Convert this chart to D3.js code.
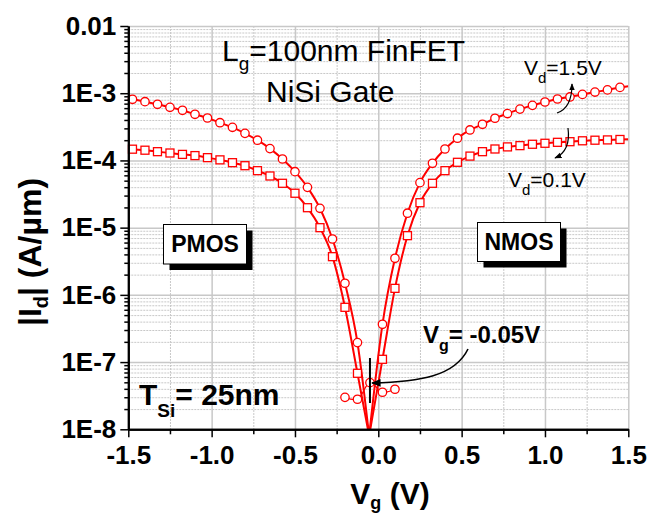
<!DOCTYPE html>
<html>
<head>
<meta charset="utf-8">
<script src="https://cdn.jsdelivr.net/npm/d3@7"></script>
<style>
  body { margin: 0; background: #fff; }
  svg { font-family: "Liberation Sans", Arial, sans-serif; }
  .grid line { stroke: #c8c8c8; }
  .grid path { display: none; }
  .axis path, .axis line { stroke: #000; }
</style>
</head>
<body>
<svg id="chart" width="666" height="513"></svg>
<script>
// gate voltages where markers sit
const vgMarks = [-1.475, -1.4, -1.325, -1.25, -1.175, -1.1, -1.025, -0.95, -0.875, -0.8,
  -0.725, -0.65, -0.575, -0.5, -0.425, -0.35, -0.275, -0.2, -0.125,
  0.025, 0.1, 0.175, 0.25, 0.325, 0.4, 0.475, 0.55, 0.625, 0.7, 0.775,
  0.85, 0.925, 1.0, 1.075, 1.15, 1.225, 1.3, 1.375, 1.45];

// |Id| at Vd = 1.5V (circles)
const idVd15 = [8.12e-4, 7.48e-4, 6.84e-4, 6.17e-4, 5.57e-4, 4.86e-4, 4.28e-4, 3.64e-4, 3.11e-4, 2.53e-4,
  2.0e-4, 1.5e-4, 1.05e-4, 6.8e-5, 3.98e-5, 1.94e-5, 6.78e-6, 1.49e-6, 1.95e-7,
  3.65e-7, 3.5e-6, 1.64e-5, 4.67e-5, 9.07e-5, 1.48e-4, 2.14e-4, 2.84e-4, 3.45e-4, 4.24e-4, 4.98e-4,
  5.8e-4, 6.6e-4, 7.4e-4, 8.2e-4, 8.8e-4, 9.6e-4, 1.04e-3, 1.12e-3, 1.22e-3];

// |Id| at Vd = 0.1V (squares)
const idVd01 = [1.47e-4, 1.42e-4, 1.35e-4, 1.29e-4, 1.23e-4, 1.18e-4, 1.10e-4, 1.02e-4, 9.26e-5, 8.35e-5,
  7.04e-5, 5.87e-5, 4.57e-5, 3.25e-5, 1.98e-5, 9.99e-6, 3.70e-6, 6.53e-7, 6.81e-8,
  1.10e-7, 1.25e-6, 7.6e-6, 2.35e-5, 4.57e-5, 7.04e-5, 9.38e-5, 1.16e-4, 1.35e-4, 1.48e-4, 1.59e-4,
  1.66e-4, 1.74e-4, 1.80e-4, 1.86e-4, 1.90e-4, 1.96e-4, 2.0e-4, 2.02e-4, 2.05e-4];

// fitted curve end points and the V tip
const vgCurveEnds = [-1.5, -0.055, 1.5];
const idVd15Ends = [8.3e-4, 8e-9, 1.27e-3];
const idVd01Ends = [1.49e-4, 8e-9, 2.06e-4];

// leakage floor points near the minimum
const vgFloor = [-0.2, -0.125, -0.05, 0.025, 0.1];
const idFloor = [2.99e-8, 2.80e-8, 4.94e-8, 3.56e-8, 3.94e-8];

const xTicks = [-1.5, -1.0, -0.5, 0.0, 0.5, 1.0, 1.5];
const xTickLabels = ["-1.5", "-1.0", "-0.5", "0.0", "0.5", "1.0", "1.5"];
const yTicks = [1e-2, 1e-3, 1e-4, 1e-5, 1e-6, 1e-7, 1e-8];
const yTickLabels = ["0.01", "1E-3", "1E-4", "1E-5", "1E-6", "1E-7", "1E-8"];

let margins = { top: 26, left: 128.3 };
let width = 500;
let height = 403.3;

let xScale = d3.scaleLinear().domain([-1.5, 1.5]).range([0, width]);
let yScale = d3.scaleLog().domain([1e-8, 1e-2]).range([height, 0]);

let xMinor = d3.range(-1.5, 1.5001, 0.25).map(d => +d.toFixed(2)).filter(d => xTicks.indexOf(d) < 0);
let yMinor = [];
for (let e = -8; e < -2; e++) {
  for (let m = 2; m < 10; m++) yMinor.push(m * Math.pow(10, e));
}

let svg = d3.select("#chart");
let graph = svg.append("g")
  .attr("transform", "translate(" + margins.left + "," + margins.top + ")");

svg.append("defs").append("clipPath").attr("id", "clip")
  .append("rect").attr("x", 0).attr("y", 0).attr("width", width).attr("height", height);

let defs = svg.select("defs");
defs.append("marker").attr("id", "arrow").attr("viewBox", "0 0 10 10")
  .attr("refX", 9).attr("refY", 5).attr("markerWidth", 6).attr("markerHeight", 6)
  .attr("orient", "auto-start-reverse")
  .append("path").attr("d", "M0,1L10,5L0,9z").attr("fill", "#000");

// minor grid (dotted)
graph.append("g").attr("class", "grid")
  .style("stroke-dasharray", "2,1")
  .call(d3.axisLeft(yScale).tickValues(yMinor).tickSize(-width).tickFormat(""));
graph.append("g").attr("class", "grid")
  .style("stroke-dasharray", "2,1")
  .call(d3.axisBottom(xScale).tickValues(xMinor).tickSize(height).tickFormat(""));
// major grid
graph.append("g").attr("class", "grid")
  .style("stroke-width", 1.5)
  .call(d3.axisLeft(yScale).tickValues(yTicks).tickSize(-width).tickFormat(""));
graph.append("g").attr("class", "grid")
  .style("stroke-width", 1.5)
  .call(d3.axisBottom(xScale).tickValues(xTicks).tickSize(height).tickFormat(""));

function curvePoints(ids, endIds) {
  let pts = vgMarks.map((v, i) => ({ vg: v, id: ids[i] }));
  vgCurveEnds.forEach((v, i) => pts.push({ vg: v, id: endIds[i] }));
  pts.sort((a, b) => a.vg - b.vg);
  let tip = vgCurveEnds[1];
  return [pts.filter(p => p.vg <= tip), pts.filter(p => p.vg >= tip)];
}

let line = d3.line()
  .x(d => xScale(d.vg))
  .y(d => yScale(d.id))
  .curve(d3.curveMonotoneX);

let curves = [curvePoints(idVd15, idVd15Ends), curvePoints(idVd01, idVd01Ends)];
let lines = graph.append("g").attr("clip-path", "url(#clip)");
curves.forEach(branches => {
  branches.forEach(b => {
    lines.append("path")
      .attr("d", line(b))
      .style("fill", "none")
      .style("stroke", "#ff0000")
      .style("stroke-width", 2);
  });
});

// floor line
let floorPts = vgFloor.map((v, i) => ({ vg: v, id: idFloor[i] }));
graph.append("path")
  .attr("d", line.curve(d3.curveCatmullRom)(floorPts))
  .style("fill", "none")
  .style("stroke", "#ff0000")
  .style("stroke-width", 1.2);

// markers
let circlePts = vgMarks.map((v, i) => ({ vg: v, id: idVd15[i] }));
let squarePts = vgMarks.map((v, i) => ({ vg: v, id: idVd01[i] }));

graph.append("g").selectAll("rect")
  .data(squarePts).enter().append("rect")
  .attr("x", d => xScale(d.vg) - 4)
  .attr("y", d => yScale(d.id) - 4)
  .attr("width", 8).attr("height", 8)
  .style("fill", "#fff").style("stroke", "#ff0000").style("stroke-width", 1.3);

graph.append("g").selectAll("circle")
  .data(circlePts.concat(floorPts)).enter().append("circle")
  .attr("cx", d => xScale(d.vg))
  .attr("cy", d => yScale(d.id))
  .attr("r", 4.2)
  .style("fill", "#fff").style("stroke", "#ff0000").style("stroke-width", 1.3);

// axes
graph.append("g").attr("class", "axis")
  .call(d3.axisLeft(yScale).tickValues(yTicks).tickFormat((d, i) => yTickLabels[i])
    .tickSize(8).tickPadding(4).tickSizeOuter(0));
graph.append("g").attr("class", "axis")
  .call(d3.axisLeft(yScale).tickValues(yMinor).tickFormat("").tickSize(4).tickSizeOuter(0));
graph.append("g").attr("class", "axis")
  .attr("transform", "translate(0," + height + ")")
  .call(d3.axisBottom(xScale).tickValues(xTicks).tickFormat((d, i) => xTickLabels[i])
    .tickSize(8).tickPadding(8).tickSizeOuter(0));
graph.append("g").attr("class", "axis")
  .attr("transform", "translate(0," + height + ")")
  .call(d3.axisBottom(xScale).tickValues(xMinor).tickFormat("").tickSize(5).tickSizeOuter(0));

graph.selectAll(".axis path").style("stroke-width", 2);
graph.selectAll(".axis line").style("stroke-width", 1.5);
graph.selectAll(".axis text")
  .style("font-family", "'Liberation Sans', Arial, sans-serif")
  .style("font-size", "26px").style("font-weight", "bold").style("fill", "#000");

// axis titles
let yTitle = svg.append("text")
  .attr("transform", "translate(41,252) rotate(-90)")
  .attr("text-anchor", "middle")
  .style("font-size", "32px").style("font-weight", "bold");
yTitle.append("tspan").text("|I");
yTitle.append("tspan").attr("dy", 7).style("font-size", "20px").text("d");
yTitle.append("tspan").attr("dy", -7).text("| (A/\u00b5m)");

let xTitle = svg.append("text")
  .attr("x", 390).attr("y", 504)
  .attr("text-anchor", "middle")
  .style("font-size", "30px").style("font-weight", "bold");
xTitle.append("tspan").text("V");
xTitle.append("tspan").attr("dy", 5).style("font-size", "18px").text("g");
xTitle.append("tspan").attr("dy", -5).text(" (V)");

// annotations
function subText(x, y, main, sub, rest, size, subSize, weight, shift) {
  let t = svg.append("text").attr("x", x).attr("y", y)
    .style("font-size", size + "px").style("font-weight", weight);
  t.append("tspan").text(main);
  t.append("tspan").attr("dy", shift).style("font-size", subSize + "px").text(sub);
  t.append("tspan").attr("dy", -shift).text(rest);
  return t;
}

subText(222, 61, "L", "g", "=100nm FinFET", 30, 19, "normal", 9);
svg.append("text").attr("x", 266).attr("y", 102)
  .style("font-size", "30px").text("NiSi Gate");
subText(524, 75, "V", "d", "=1.5V", 21, 15, "normal", 8);
subText(508, 187, "V", "d", "=0.1V", 21, 15, "normal", 8);
subText(139, 405, "T", "Si", "= 25nm", 30, 19, "bold", 12);
subText(423, 343, "V", "g", "= -0.05V", 24, 16, "bold", 8);

// small curved arrows for Vd labels
svg.append("path").attr("d", "M557,113 Q572,108 572,84")
  .style("fill", "none").style("stroke", "#000").style("stroke-width", 1.2)
  .attr("marker-end", "url(#arrow)");
svg.append("path").attr("d", "M568,128 Q571,151 555,158")
  .style("fill", "none").style("stroke", "#000").style("stroke-width", 1.2)
  .attr("marker-end", "url(#arrow)");

// Vg marker line and arrow
let vgMin = margins.left + xScale(-0.05);
svg.append("line")
  .attr("x1", vgMin).attr("x2", vgMin).attr("y1", 358).attr("y2", 403)
  .style("stroke", "#000").style("stroke-width", 2);
svg.append("path").attr("d", "M468,349 C455,376 420,382 " + (vgMin + 2) + ",383")
  .style("fill", "none").style("stroke", "#000").style("stroke-width", 1.6)
  .attr("marker-end", "url(#arrow)");

// PMOS / NMOS boxes with shadow
function labelBox(x, y, w, h, label) {
  svg.append("rect").attr("x", x + 6).attr("y", y + 6).attr("width", w).attr("height", h)
    .style("fill", "#000");
  svg.append("rect").attr("x", x).attr("y", y).attr("width", w).attr("height", h)
    .style("fill", "#fff").style("stroke", "#000").style("stroke-width", 1);
  svg.append("text").attr("x", x + w / 2).attr("y", y + h / 2 + 8)
    .attr("text-anchor", "middle")
    .style("font-size", "23px").style("font-weight", "bold").text(label);
}
labelBox(163.5, 224.5, 83, 39.5, "PMOS");
labelBox(477.5, 222.5, 83, 39, "NMOS");
</script>
</body>
</html>
